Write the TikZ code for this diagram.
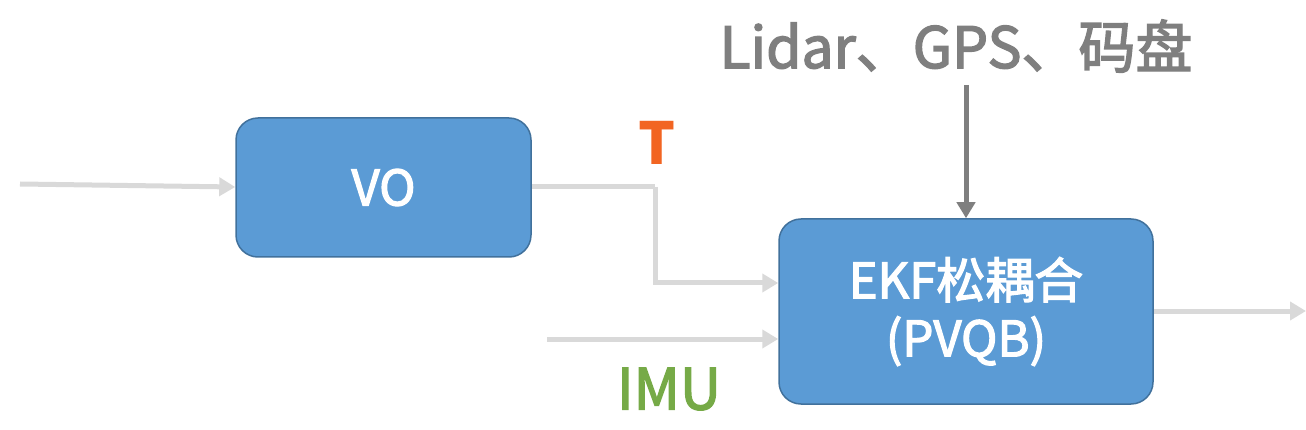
\documentclass[tikz,border=0pt]{standalone}
\usepackage{fontspec}
\setmainfont{Noto Sans CJK SC}
\newfontfamily\medfont[FakeBold=2.5]{Noto Sans CJK SC}
\usetikzlibrary{arrows.meta}
\definecolor{boxblue}{HTML}{5B9BD5}
\definecolor{boxedge}{HTML}{41719C}
\definecolor{lgray}{HTML}{D9D9D9}
\definecolor{dgray}{HTML}{7F7F7F}
\definecolor{tor}{HTML}{F26522}
\definecolor{igreen}{HTML}{76AA47}
\tikzset{
  blk/.style={draw=boxedge, line width=1.5pt, fill=boxblue, rounded corners=22pt, text=white, align=center, inner sep=0pt},
  lflow/.style={draw=lgray, line width=5pt, -{Triangle[length=16pt,width=18pt]}},
  dflow/.style={draw=dgray, line width=5pt, -{Triangle[length=16pt,width=18pt]}},
}
\begin{document}
\begin{tikzpicture}[x=1pt,y=-1pt]
\useasboundingbox (0,0) rectangle (1306,430);
\node[blk, minimum width=295pt, minimum height=139pt, font=\medfont\fontsize{49}{58}\selectfont] (vo) at (383.5,187.5) {VO};
\node[blk, minimum width=374pt, minimum height=185pt, font=\medfont\fontsize{49}{58}\selectfont] (ekf) at (966,311.5) {EKF松耦合\\(PVQB)};
\coordinate (in1) at (20,184);
\coordinate (imuin) at (547,339);
\coordinate (outp) at (1306,311);
\coordinate (bend1) at (655,187);
\coordinate (bend2) at (655,283);
\node[text=dgray, font=\medfont\fontsize{57}{60}\selectfont, inner sep=0pt] (lidar) at (956,46) {Lidar、GPS、码盘};
\node[text=tor, font=\bfseries\fontsize{58}{60}\selectfont, inner sep=0pt] (T) at (657,143) {T};
\node[text=igreen, font=\medfont\fontsize{57}{60}\selectfont, inner sep=0pt] (imu) at (669,389) {IMU};
\draw[lflow] (in1) -- (vo.west|-0,187);
\draw[lflow, -] (vo.east|-bend1) -- (bend1);
\draw[lflow] (bend1) -- (bend2) -- (ekf.west|-bend2);
\draw[lflow] (imuin) -- (ekf.west|-imuin);
\draw[lflow] (ekf.east|-outp) -- (outp);
\draw[dflow] (966,85) -- (ekf.north);
\end{tikzpicture}
\end{document}
